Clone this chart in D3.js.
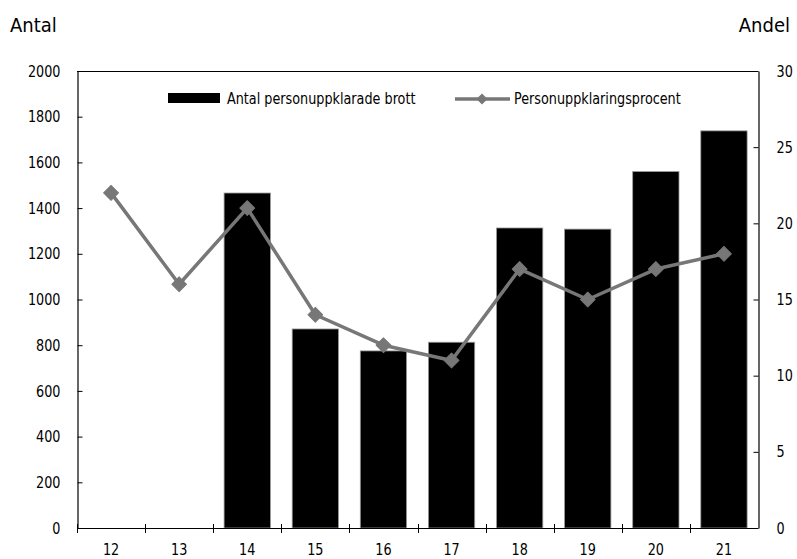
<!DOCTYPE html>
<html><head><meta charset="utf-8">
<script src="https://cdn.jsdelivr.net/npm/d3@7"></script>
<style>
body{margin:0;background:#fff;}
text{font-family:"Liberation Sans Narrow","DejaVu Sans Condensed",sans-serif;fill:#000;}
</style></head>
<body><svg id="c" width="797" height="559"></svg>
<script>
const categories = ["12","13","14","15","16","17","18","19","20","21"];
const antal = [null, null, 1466, 871, 775, 813, 1313, 1308, 1560, 1738];
const andel = [22, 16, 21, 14, 12, 11, 17, 15, 17, 18];
const leftTicks = [0,200,400,600,800,1000,1200,1400,1600,1800,2000];
const rightTicks = [0,5,10,15,20,25,30];
const barLabel = "Antal personuppklarade brott";
const lineLabel = "Personuppklaringsprocent";

const SX = 0.89;
const svg = d3.select("#c");
const L = 77, R = 758, T = 71, B = 528;
const x = d3.scaleBand().domain(categories).range([L, R]).paddingInner(0.32).paddingOuter(0.16);
const xb = d3.scaleBand().domain(categories).range([L, R]);
const yL = d3.scaleLinear().domain([0, 2000]).range([B, T]);
const yR = d3.scaleLinear().domain([0, 30]).range([B, T]);

function txt(g, xx, yy, s, size, anchor, sx){
  return g.append("text").attr("transform",`translate(${xx},${yy}) scale(${sx||SX},1)`)
    .attr("font-size",size).attr("text-anchor",anchor||"start").text(s);
}

// bars
svg.append("g").selectAll("rect")
  .data(categories.map((c,i)=>({c, v: antal[i]})).filter(d=>d.v!=null))
  .join("rect")
  .attr("x", d=>x(d.c)).attr("width", x.bandwidth())
  .attr("y", d=>yL(d.v)).attr("height", d=>B - yL(d.v))
  .attr("fill", "#000").attr("stroke", "#999").attr("stroke-width", 0.8);

// frame
svg.append("line").attr("x1",L).attr("x2",R).attr("y1",T+0.5).attr("y2",T+0.5).attr("stroke","#000");

// left axis
const gl = svg.append("g").attr("transform",`translate(${L+0.5},0)`)
  .call(d3.axisLeft(yL).tickValues(leftTicks).tickFormat(d3.format("d")).tickSize(-5).tickPadding(17).tickSizeOuter(0));
// right axis
const gr = svg.append("g").attr("transform",`translate(${R+0.5},0)`)
  .call(d3.axisRight(yR).tickValues(rightTicks).tickFormat(d3.format("d")).tickSize(-5).tickPadding(18).tickSizeOuter(0));
[gl, gr].forEach((g,k)=>{
  g.select(".domain").attr("stroke","#000").attr("stroke-width",1.2);
  g.selectAll(".tick line").attr("stroke","#000");
  g.selectAll(".tick text").each(function(){
    const t = d3.select(this);
    const xx = +t.attr("x");
    t.attr("x",null).attr("font-size",16).attr("font-family",null)
     .attr("transform",`translate(${xx},0) scale(${SX},1)`);
  });
});

// x axis
const gx = svg.append("g");
gx.append("line").attr("x1",L).attr("x2",R).attr("y1",B+0.5).attr("y2",B+0.5).attr("stroke","#000").attr("stroke-width",1.2);
const bounds = categories.map(c=>xb(c));
gx.selectAll("line.t").data(bounds).join("line").attr("class","t")
  .attr("x1",d=>Math.round(d)+0.5).attr("x2",d=>Math.round(d)+0.5)
  .attr("y1",B-4).attr("y2",B+5).attr("stroke","#000");
categories.forEach(c=>txt(gx, xb(c)+xb.bandwidth()/2, 555, c, 16, "middle"));

// line series
const pts = categories.map((c,i)=>[xb(c)+xb.bandwidth()/2, yR(andel[i])]);
svg.append("path").attr("d", d3.line()(pts)).attr("fill","none")
  .attr("stroke","#777").attr("stroke-width",3.5).attr("stroke-linejoin","round");
svg.append("g").selectAll("path").data(pts).join("path")
  .attr("transform",d=>`translate(${d[0]},${d[1]}) rotate(45)`)
  .attr("d", d3.symbol().type(d3.symbolSquare).size(110)())
  .attr("fill","#777").attr("stroke","#777").attr("stroke-width",1).attr("stroke-linejoin","round");

// legend
svg.append("rect").attr("x",168).attr("y",93).attr("width",52).attr("height",10).attr("fill","#000");
txt(svg, 227, 104, barLabel, 16);
svg.append("line").attr("x1",455).attr("x2",510).attr("y1",99).attr("y2",99).attr("stroke","#777").attr("stroke-width",3.5);
svg.append("path").attr("transform","translate(482,99) rotate(45)")
  .attr("d", d3.symbol().type(d3.symbolSquare).size(60)()).attr("fill","#777");
txt(svg, 514, 104, lineLabel, 16);

// axis titles
txt(svg, 10, 32, "Antal", 20, "start", 1);
txt(svg, 790, 32, "Andel", 20, "end", 1);
</script></body></html>
